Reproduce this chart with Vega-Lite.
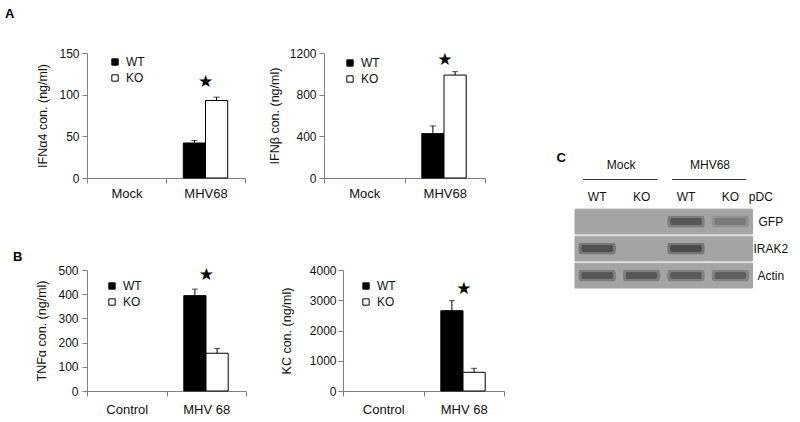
{
  "$schema": "https://vega.github.io/schema/vega-lite/v6.json",
  "padding": {"left": 5, "top": 8, "right": 0, "bottom": 0},
  "background": "white",
  "config": {
    "view": {"stroke": null},
    "font": "Liberation Sans",
    "axis": {"domainColor": "#808080", "tickColor": "#808080", "labelColor": "#111111", "titleColor": "#111111", "labelFont": "Liberation Sans", "titleFont": "Liberation Sans", "grid": false, "titleFontWeight": "normal", "labelFontSize": 12, "titleFontSize": 12.5, "tickSize": 5, "labelOverlap": false},
    "axisX": {"tickBand": "extent", "labelFontSize": 13, "labelPadding": 4, "labelAngle": 0, "title": null},
    "axisY": {"labelPadding": 3},
    "title": {"font": "Liberation Sans", "fontSize": 13, "fontWeight": "bold", "anchor": "start", "color": "black", "frame": "group"},
    "legend": {"orient": "none", "symbolType": "square", "symbolSize": 40, "symbolStrokeColor": "black", "symbolStrokeWidth": 1, "labelFontSize": 12, "labelFont": "Liberation Sans", "labelColor": "#111111", "rowPadding": 4, "title": null, "padding": 0, "labelOffset": 5},
    "text": {"font": "Liberation Sans", "color": "#111111", "baseline": "middle"}
  },
  "datasets": {
    "a1": [
      {"group": "MHV68", "genotype": "WT", "value": 42, "upper": 45},
      {"group": "MHV68", "genotype": "KO", "value": 93, "upper": 97}
    ],
    "a1star": [{"group": "MHV68", "star": 115}],
    "a2": [
      {"group": "MHV68", "genotype": "WT", "value": 426, "upper": 500},
      {"group": "MHV68", "genotype": "KO", "value": 988, "upper": 1021}
    ],
    "a2star": [{"group": "MHV68", "star": 1130}],
    "b1": [
      {"group": "MHV 68", "genotype": "WT", "value": 394, "upper": 421},
      {"group": "MHV 68", "genotype": "KO", "value": 156, "upper": 176}
    ],
    "b1star": [{"group": "MHV 68", "star": 479}],
    "b2": [
      {"group": "MHV 68", "genotype": "WT", "value": 2655, "upper": 2985},
      {"group": "MHV 68", "genotype": "KO", "value": 618, "upper": 750}
    ],
    "b2star": [{"group": "MHV 68", "star": 3370}],
    "blot": [
      {"lane": "Mock WT", "protein": "GFP", "intensity": 0},
      {"lane": "Mock KO", "protein": "GFP", "intensity": 0},
      {"lane": "MHV68 WT", "protein": "GFP", "intensity": 0.8},
      {"lane": "MHV68 KO", "protein": "GFP", "intensity": 0.4},
      {"lane": "Mock WT", "protein": "IRAK2", "intensity": 0.9},
      {"lane": "Mock KO", "protein": "IRAK2", "intensity": 0},
      {"lane": "MHV68 WT", "protein": "IRAK2", "intensity": 0.95},
      {"lane": "MHV68 KO", "protein": "IRAK2", "intensity": 0},
      {"lane": "Mock WT", "protein": "Actin", "intensity": 0.8},
      {"lane": "Mock KO", "protein": "Actin", "intensity": 0.8},
      {"lane": "MHV68 WT", "protein": "Actin", "intensity": 0.75},
      {"lane": "MHV68 KO", "protein": "Actin", "intensity": 0.7}
    ],
    "blotGroups": [
      {"group": "Mock", "first": "Mock WT", "last": "Mock KO"},
      {"group": "MHV68", "first": "MHV68 WT", "last": "MHV68 KO"}
    ],
    "lanes": [
      {"lane": "Mock WT", "genotype": "WT"},
      {"lane": "Mock KO", "genotype": "KO"},
      {"lane": "MHV68 WT", "genotype": "WT"},
      {"lane": "MHV68 KO", "genotype": "KO"}
    ],
    "proteins": [{"protein": "GFP"}, {"protein": "IRAK2"}, {"protein": "Actin"}]
  },
  "spacing": 51,
  "resolve": {"scale": {"x": "independent", "y": "independent", "color": "independent"}, "legend": {"color": "independent"}},
  "hconcat": [
    {
      "spacing": 51,
      "resolve": {"scale": {"x": "independent", "y": "independent", "color": "independent"}, "legend": {"color": "independent"}},
      "vconcat": [
        {
          "title": {"text": "A", "dx": -82, "offset": 26},
          "spacing": 22,
          "resolve": {"scale": {"x": "independent", "y": "independent", "color": "independent"}, "legend": {"color": "independent"}},
          "hconcat": [
            {
              "width": 158, "height": 125,
              "data": {"name": "a1"},
              "encoding": {"x": {"field": "group", "type": "nominal", "scale": {"domain": ["Mock", "MHV68"], "paddingInner": 0, "paddingOuter": 0}, "axis": {"title": null}}},
              "layer": [
                {
                  "mark": {"type": "bar", "stroke": "black", "strokeWidth": 1},
                  "encoding": {
                    "xOffset": {"field": "genotype", "type": "nominal", "scale": {"domain": ["WT", "KO"], "paddingInner": 0, "paddingOuter": 0.78}},
                    "y": {"field": "value", "type": "quantitative", "scale": {"domain": [0, 150], "nice": false}, "axis": {"values": [0, 50, 100, 150], "title": "IFNα4  con. (ng/ml)", "titlePadding": 9}},
                    "color": {"field": "genotype", "type": "nominal", "scale": {"domain": ["WT", "KO"], "range": ["black", "white"]}, "legend": {"legendX": 22, "legendY": 3}}
                  }
                },
                {
                  "mark": {"type": "rule", "color": "black", "strokeWidth": 1},
                  "encoding": {"xOffset": {"field": "genotype", "type": "nominal", "scale": {"domain": ["WT", "KO"], "paddingInner": 0, "paddingOuter": 0.78}}, "y": {"field": "value", "type": "quantitative", "scale": {"domain": [0, 150], "nice": false}, "axis": {"values": [0, 50, 100, 150], "title": "IFNα4  con. (ng/ml)", "titlePadding": 9}}, "y2": {"field": "upper"}}
                },
                {
                  "mark": {"type": "tick", "color": "black", "size": 6, "thickness": 1},
                  "encoding": {"xOffset": {"field": "genotype", "type": "nominal", "scale": {"domain": ["WT", "KO"], "paddingInner": 0, "paddingOuter": 0.78}}, "y": {"field": "upper", "type": "quantitative", "scale": {"domain": [0, 150], "nice": false}, "axis": {"values": [0, 50, 100, 150], "title": "IFNα4  con. (ng/ml)", "titlePadding": 9}}}
                },
                {
                  "data": {"name": "a1star"},
                  "mark": {"type": "text", "text": "★", "font": "DejaVu Sans", "fontSize": 17, "color": "black"},
                  "encoding": {"y": {"field": "star", "type": "quantitative", "scale": {"domain": [0, 150], "nice": false}, "axis": {"values": [0, 50, 100, 150], "title": "IFNα4  con. (ng/ml)", "titlePadding": 9}}}
                }
              ]
            },
            {
              "width": 161, "height": 125,
              "data": {"name": "a2"},
              "encoding": {"x": {"field": "group", "type": "nominal", "scale": {"domain": ["Mock", "MHV68"], "paddingInner": 0, "paddingOuter": 0}, "axis": {"title": null}}},
              "layer": [
                {
                  "mark": {"type": "bar", "stroke": "black", "strokeWidth": 1},
                  "encoding": {
                    "xOffset": {"field": "genotype", "type": "nominal", "scale": {"domain": ["WT", "KO"], "paddingInner": 0, "paddingOuter": 0.78}},
                    "y": {"field": "value", "type": "quantitative", "scale": {"domain": [0, 1200], "nice": false}, "axis": {"values": [0, 400, 800, 1200], "format": "d", "title": "IFNβ  con. (ng/ml)", "titlePadding": 8}},
                    "color": {"field": "genotype", "type": "nominal", "scale": {"domain": ["WT", "KO"], "range": ["black", "white"]}, "legend": {"legendX": 20, "legendY": 4}}
                  }
                },
                {
                  "mark": {"type": "rule", "color": "black", "strokeWidth": 1},
                  "encoding": {"xOffset": {"field": "genotype", "type": "nominal", "scale": {"domain": ["WT", "KO"], "paddingInner": 0, "paddingOuter": 0.78}}, "y": {"field": "value", "type": "quantitative", "scale": {"domain": [0, 1200], "nice": false}, "axis": {"values": [0, 400, 800, 1200], "format": "d", "title": "IFNβ  con. (ng/ml)", "titlePadding": 8}}, "y2": {"field": "upper"}}
                },
                {
                  "mark": {"type": "tick", "color": "black", "size": 6, "thickness": 1},
                  "encoding": {"xOffset": {"field": "genotype", "type": "nominal", "scale": {"domain": ["WT", "KO"], "paddingInner": 0, "paddingOuter": 0.78}}, "y": {"field": "upper", "type": "quantitative", "scale": {"domain": [0, 1200], "nice": false}, "axis": {"values": [0, 400, 800, 1200], "format": "d", "title": "IFNβ  con. (ng/ml)", "titlePadding": 8}}}
                },
                {
                  "data": {"name": "a2star"},
                  "mark": {"type": "text", "text": "★", "font": "DejaVu Sans", "fontSize": 17, "color": "black"},
                  "encoding": {"y": {"field": "star", "type": "quantitative", "scale": {"domain": [0, 1200], "nice": false}, "axis": {"values": [0, 400, 800, 1200], "format": "d", "title": "IFNβ  con. (ng/ml)", "titlePadding": 8}}}
                }
              ]
            }
          ]
        },
        {
          "title": {"text": "B", "dx": -74, "offset": 0},
          "spacing": 33,
          "resolve": {"scale": {"x": "independent", "y": "independent", "color": "independent"}, "legend": {"color": "independent"}},
          "hconcat": [
            {
              "width": 159, "height": 121,
              "data": {"name": "b1"},
              "encoding": {"x": {"field": "group", "type": "nominal", "scale": {"domain": ["Control", "MHV 68"], "paddingInner": 0, "paddingOuter": 0}, "axis": {"title": null, "labelPadding": 7}}},
              "layer": [
                {
                  "mark": {"type": "bar", "stroke": "black", "strokeWidth": 1},
                  "encoding": {
                    "xOffset": {"field": "genotype", "type": "nominal", "scale": {"domain": ["WT", "KO"], "paddingInner": 0, "paddingOuter": 0.78}},
                    "y": {"field": "value", "type": "quantitative", "scale": {"domain": [0, 500], "nice": false}, "axis": {"values": [0, 100, 200, 300, 400, 500], "title": "TNFα con. (ng/ml)", "titlePadding": 9, "labelPadding": 4}},
                    "color": {"field": "genotype", "type": "nominal", "scale": {"domain": ["WT", "KO"], "range": ["black", "white"]}, "legend": {"legendX": 19, "legendY": 10}}
                  }
                },
                {
                  "mark": {"type": "rule", "color": "black", "strokeWidth": 1},
                  "encoding": {"xOffset": {"field": "genotype", "type": "nominal", "scale": {"domain": ["WT", "KO"], "paddingInner": 0, "paddingOuter": 0.78}}, "y": {"field": "value", "type": "quantitative", "scale": {"domain": [0, 500], "nice": false}, "axis": {"values": [0, 100, 200, 300, 400, 500], "title": "TNFα con. (ng/ml)", "titlePadding": 9, "labelPadding": 4}}, "y2": {"field": "upper"}}
                },
                {
                  "mark": {"type": "tick", "color": "black", "size": 6, "thickness": 1},
                  "encoding": {"xOffset": {"field": "genotype", "type": "nominal", "scale": {"domain": ["WT", "KO"], "paddingInner": 0, "paddingOuter": 0.78}}, "y": {"field": "upper", "type": "quantitative", "scale": {"domain": [0, 500], "nice": false}, "axis": {"values": [0, 100, 200, 300, 400, 500], "title": "TNFα con. (ng/ml)", "titlePadding": 9, "labelPadding": 4}}}
                },
                {
                  "data": {"name": "b1star"},
                  "mark": {"type": "text", "text": "★", "font": "DejaVu Sans", "fontSize": 17, "color": "black"},
                  "encoding": {"y": {"field": "star", "type": "quantitative", "scale": {"domain": [0, 500], "nice": false}, "axis": {"values": [0, 100, 200, 300, 400, 500], "title": "TNFα con. (ng/ml)", "titlePadding": 9, "labelPadding": 4}}}
                }
              ]
            },
            {
              "width": 161, "height": 121,
              "data": {"name": "b2"},
              "encoding": {"x": {"field": "group", "type": "nominal", "scale": {"domain": ["Control", "MHV 68"], "paddingInner": 0, "paddingOuter": 0}, "axis": {"title": null, "labelPadding": 7}}},
              "layer": [
                {
                  "mark": {"type": "bar", "stroke": "black", "strokeWidth": 1},
                  "encoding": {
                    "xOffset": {"field": "genotype", "type": "nominal", "scale": {"domain": ["WT", "KO"], "paddingInner": 0, "paddingOuter": 0.78}},
                    "y": {"field": "value", "type": "quantitative", "scale": {"domain": [0, 4000], "nice": false}, "axis": {"values": [0, 1000, 2000, 3000, 4000], "format": "d", "title": "KC  con. (ng/ml)", "titlePadding": 16, "labelPadding": 2}},
                    "color": {"field": "genotype", "type": "nominal", "scale": {"domain": ["WT", "KO"], "range": ["black", "white"]}, "legend": {"legendX": 17, "legendY": 10}}
                  }
                },
                {
                  "mark": {"type": "rule", "color": "black", "strokeWidth": 1},
                  "encoding": {"xOffset": {"field": "genotype", "type": "nominal", "scale": {"domain": ["WT", "KO"], "paddingInner": 0, "paddingOuter": 0.78}}, "y": {"field": "value", "type": "quantitative", "scale": {"domain": [0, 4000], "nice": false}, "axis": {"values": [0, 1000, 2000, 3000, 4000], "format": "d", "title": "KC  con. (ng/ml)", "titlePadding": 16, "labelPadding": 2}}, "y2": {"field": "upper"}}
                },
                {
                  "mark": {"type": "tick", "color": "black", "size": 6, "thickness": 1},
                  "encoding": {"xOffset": {"field": "genotype", "type": "nominal", "scale": {"domain": ["WT", "KO"], "paddingInner": 0, "paddingOuter": 0.78}}, "y": {"field": "upper", "type": "quantitative", "scale": {"domain": [0, 4000], "nice": false}, "axis": {"values": [0, 1000, 2000, 3000, 4000], "format": "d", "title": "KC  con. (ng/ml)", "titlePadding": 16, "labelPadding": 2}}}
                },
                {
                  "data": {"name": "b2star"},
                  "mark": {"type": "text", "text": "★", "font": "DejaVu Sans", "fontSize": 17, "color": "black"},
                  "encoding": {"y": {"field": "star", "type": "quantitative", "scale": {"domain": [0, 4000], "nice": false}, "axis": {"values": [0, 1000, 2000, 3000, 4000], "format": "d", "title": "KC  con. (ng/ml)", "titlePadding": 16, "labelPadding": 2}}}
                }
              ]
            }
          ]
        }
      ]
    },
    {
      "width": 222, "height": 235,
      "layer": [
        {
          "data": {"name": "blot"},
          "mark": {"type": "rect", "color": "#a4a4a4", "stroke": "#a4a4a4", "strokeWidth": 1},
          "encoding": {
            "x": {"field": "lane", "type": "nominal", "scale": {"type": "band", "domain": ["Mock WT", "Mock KO", "MHV68 WT", "MHV68 KO", "side"], "paddingInner": 0, "paddingOuter": 0}, "axis": null},
            "y": {"field": "protein", "type": "nominal", "scale": {"type": "band", "domain": ["e1", "e2", "grp", "lane", "GFP", "IRAK2", "Actin"], "paddingInner": 0.08, "paddingOuter": 0.89, "align": 1}, "axis": null}
          }
        },
        {
          "data": {"name": "blot"},
          "mark": {"type": "point", "shape": "M-0.9,-0.3 L0.9,-0.3 Q1,-0.3 1,0 Q1,0.3 0.9,0.3 L-0.9,0.3 Q-1,0.3 -1,0 Q-1,-0.3 -0.9,-0.3 Z", "filled": true, "color": "#444444", "size": 1400},
          "encoding": {
            "x": {"field": "lane", "type": "nominal", "scale": {"type": "band", "domain": ["Mock WT", "Mock KO", "MHV68 WT", "MHV68 KO", "side"], "paddingInner": 0, "paddingOuter": 0}, "axis": null},
            "y": {"field": "protein", "type": "nominal", "scale": {"type": "band", "domain": ["e1", "e2", "grp", "lane", "GFP", "IRAK2", "Actin"], "paddingInner": 0.08, "paddingOuter": 0.89, "align": 1}, "axis": null},
            "opacity": {"field": "intensity", "type": "quantitative", "scale": {"domain": [0, 1], "range": [0, 0.5]}, "legend": null}
          }
        },
        {
          "data": {"name": "blot"},
          "mark": {"type": "point", "shape": "M-0.9,-0.22 L0.9,-0.22 Q1,-0.22 1,0 Q1,0.22 0.9,0.22 L-0.9,0.22 Q-1,0.22 -1,0 Q-1,-0.22 -0.9,-0.22 Z", "filled": true, "color": "#1e1e1e", "size": 1000},
          "encoding": {
            "x": {"field": "lane", "type": "nominal", "scale": {"type": "band", "domain": ["Mock WT", "Mock KO", "MHV68 WT", "MHV68 KO", "side"], "paddingInner": 0, "paddingOuter": 0}, "axis": null},
            "y": {"field": "protein", "type": "nominal", "scale": {"type": "band", "domain": ["e1", "e2", "grp", "lane", "GFP", "IRAK2", "Actin"], "paddingInner": 0.08, "paddingOuter": 0.89, "align": 1}, "axis": null},
            "opacity": {"field": "intensity", "type": "quantitative", "scale": {"domain": [0, 1], "range": [0, 1]}, "legend": null}
          }
        },
        {
          "data": {"name": "blotGroups"},
          "mark": {"type": "text", "dx": 24, "dy": -3, "fontSize": 12},
          "encoding": {
            "x": {"field": "first", "type": "nominal", "scale": {"type": "band", "domain": ["Mock WT", "Mock KO", "MHV68 WT", "MHV68 KO", "side"], "paddingInner": 0, "paddingOuter": 0}, "axis": null},
            "y": {"datum": "grp", "type": "nominal", "scale": {"type": "band", "domain": ["e1", "e2", "grp", "lane", "GFP", "IRAK2", "Actin"], "paddingInner": 0.08, "paddingOuter": 0.89, "align": 1}, "axis": null},
            "text": {"field": "group"}
          }
        },
        {
          "data": {"name": "blotGroups"},
          "mark": {"type": "rule", "xOffset": -14, "x2Offset": 16, "yOffset": 12, "color": "#333333", "strokeWidth": 1},
          "encoding": {
            "x": {"field": "first", "type": "nominal", "scale": {"type": "band", "domain": ["Mock WT", "Mock KO", "MHV68 WT", "MHV68 KO", "side"], "paddingInner": 0, "paddingOuter": 0}, "axis": null},
            "x2": {"field": "last"},
            "y": {"datum": "grp", "type": "nominal", "scale": {"type": "band", "domain": ["e1", "e2", "grp", "lane", "GFP", "IRAK2", "Actin"], "paddingInner": 0.08, "paddingOuter": 0.89, "align": 1}, "axis": null}
          }
        },
        {
          "data": {"name": "lanes"},
          "mark": {"type": "text", "dy": 2, "fontSize": 12},
          "encoding": {
            "x": {"field": "lane", "type": "nominal", "scale": {"type": "band", "domain": ["Mock WT", "Mock KO", "MHV68 WT", "MHV68 KO", "side"], "paddingInner": 0, "paddingOuter": 0}, "axis": null},
            "y": {"datum": "lane", "type": "nominal", "scale": {"type": "band", "domain": ["e1", "e2", "grp", "lane", "GFP", "IRAK2", "Actin"], "paddingInner": 0.08, "paddingOuter": 0.89, "align": 1}, "axis": null},
            "text": {"field": "genotype"}
          }
        },
        {
          "data": {"values": [{"label": "pDC"}]},
          "mark": {"type": "text", "dx": -14, "dy": 2, "fontSize": 12},
          "encoding": {
            "x": {"datum": "side", "type": "nominal", "scale": {"type": "band", "domain": ["Mock WT", "Mock KO", "MHV68 WT", "MHV68 KO", "side"], "paddingInner": 0, "paddingOuter": 0}, "axis": null},
            "y": {"datum": "lane", "type": "nominal", "scale": {"type": "band", "domain": ["e1", "e2", "grp", "lane", "GFP", "IRAK2", "Actin"], "paddingInner": 0.08, "paddingOuter": 0.89, "align": 1}, "axis": null},
            "text": {"field": "label"}
          }
        },
        {
          "data": {"name": "proteins"},
          "mark": {"type": "text", "dx": -4, "fontSize": 12},
          "encoding": {
            "x": {"datum": "side", "type": "nominal", "scale": {"type": "band", "domain": ["Mock WT", "Mock KO", "MHV68 WT", "MHV68 KO", "side"], "paddingInner": 0, "paddingOuter": 0}, "axis": null},
            "y": {"field": "protein", "type": "nominal", "scale": {"type": "band", "domain": ["e1", "e2", "grp", "lane", "GFP", "IRAK2", "Actin"], "paddingInner": 0.08, "paddingOuter": 0.89, "align": 1}, "axis": null},
            "text": {"field": "protein"}
          }
        },
        {
          "data": {"values": [{"label": "C"}]},
          "mark": {"type": "text", "dx": -36, "dy": -10, "fontSize": 13, "fontWeight": "bold", "color": "black"},
          "encoding": {
            "x": {"datum": "Mock WT", "type": "nominal", "scale": {"type": "band", "domain": ["Mock WT", "Mock KO", "MHV68 WT", "MHV68 KO", "side"], "paddingInner": 0, "paddingOuter": 0}, "axis": null},
            "y": {"datum": "grp", "type": "nominal", "scale": {"type": "band", "domain": ["e1", "e2", "grp", "lane", "GFP", "IRAK2", "Actin"], "paddingInner": 0.08, "paddingOuter": 0.89, "align": 1}, "axis": null},
            "text": {"field": "label"}
          }
        }
      ]
    }
  ]
}
